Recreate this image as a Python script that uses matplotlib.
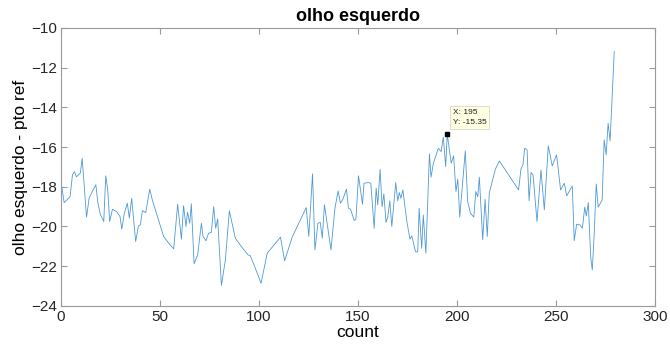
import numpy as np
import matplotlib.pyplot as plt

plt.rcParams['font.family'] = ['Liberation Sans', 'DejaVu Sans']

count = [0.4, 1.6, 4.6, 5.8, 6.8, 7.8, 9.8, 10.7, 12.9, 14.2, 15.5, 17.6, 18.6, 19.9,
         21.6, 22.6, 23.6, 24.6, 26.0, 28.1, 29.8, 30.7, 32.0, 33.5, 34.5, 35.7, 37.7,
         39.1, 40.1, 41.1, 42.8, 44.8, 46.1, 49.2, 51.8, 54.4, 56.9, 58.9, 60.8, 61.9,
         63.1, 63.9, 65.0, 65.8, 67.2, 69.0, 70.9, 71.7, 73.2, 74.5, 75.9, 77.1, 78.1,
         79.1, 81.0, 83.0, 85.0, 88.0, 91.0, 94.4, 95.6, 98.1, 101.0, 104.1, 110.8,
         112.9, 116.7, 123.8, 125.1, 127.0, 128.2, 129.7, 130.9, 131.9, 133.0, 136.3,
         138.3, 139.9, 141.1, 142.3, 144.1, 145.1, 146.2, 148.0, 148.9, 150.2, 152.2,
         153.0, 155.2, 156.4, 158.1, 159.1, 159.9, 161.1, 162.1, 163.0, 164.1, 165.0,
         166.0, 167.0, 169.0, 170.0, 170.8, 171.6, 172.6, 174.6, 176.2, 177.1, 179.0,
         180.1, 180.8, 182.1, 182.9, 184.2, 186.0, 186.8, 188.0, 190.5, 191.9, 193.0,
         194.2, 195.0, 197.0, 198.2, 199.4, 200.3, 201.3, 202.6, 204.1, 205.3, 206.7,
         208.4, 209.4, 210.4, 211.2, 212.9, 214.1, 215.2, 216.2, 219.3, 221.3, 231.0,
         232.2, 233.2, 234.1, 235.3, 236.3, 237.3, 238.3, 240.3, 242.3, 244.0, 246.0,
         248.0, 250.2, 252.2, 254.1, 255.3, 258.1, 259.1, 260.3, 262.0, 263.2, 264.4,
         265.2, 266.2, 267.4, 268.2, 269.2, 270.2, 271.2, 273.2, 274.2, 275.2, 276.2,
         277.2, 279.3]
pos = [-17.99, -18.80, -18.50, -17.40, -17.24, -17.50, -17.30, -16.56, -19.53, -18.58,
       -18.30, -17.90, -18.80, -19.40, -19.75, -17.45, -18.16, -19.75, -19.13, -19.25,
       -19.50, -20.14, -19.33, -18.83, -19.58, -18.58, -20.76, -19.97, -19.92, -19.20,
       -19.30, -18.12, -18.66, -19.67, -20.50, -20.84, -21.13, -18.88, -20.64, -18.95,
       -20.00, -19.28, -19.84, -18.86, -21.88, -21.43, -19.84, -20.50, -20.72, -20.34,
       -20.30, -19.00, -20.09, -19.62, -22.97, -21.68, -19.21, -20.59, -21.00, -21.43,
       -21.48, -22.10, -22.86, -21.35, -20.54, -21.73, -20.54, -19.05, -20.50, -17.35,
       -21.18, -19.84, -19.80, -20.59, -18.91, -21.18, -19.08, -18.21, -18.83, -18.63,
       -18.12, -19.08, -19.13, -19.70, -19.63, -17.45, -18.88, -17.82, -17.79, -17.82,
       -20.09, -18.07, -18.91, -17.12, -19.00, -18.36, -19.80, -19.50, -18.71, -20.00,
       -17.79, -18.71, -18.29, -18.58, -18.16, -19.75, -20.64, -20.47, -21.28, -21.28,
       -19.08, -21.10, -19.42, -21.35, -16.34, -17.52, -16.81, -16.06, -16.23, -15.50,
       -16.98, -15.35, -16.81, -16.44, -18.24, -17.62, -19.53, -17.99, -16.19, -18.74,
       -19.33, -19.53, -18.24, -18.50, -17.52, -20.67, -18.63, -20.50, -18.32, -17.11,
       -16.70, -18.16, -17.11, -16.90, -16.06, -16.14, -18.70, -17.28, -17.40, -19.75,
       -17.15, -19.16, -15.94, -16.95, -16.39, -18.16, -17.82, -18.46, -17.96, -20.71,
       -19.89, -19.92, -20.09, -19.03, -19.47, -18.80, -21.52, -22.19, -20.34, -17.86,
       -19.03, -18.66, -15.64, -16.39, -14.80, -15.69, -11.19]

tip_x = 195
tip_y = -15.35

fig = plt.figure(figsize=(6.7, 3.54), dpi=100)
ax = fig.add_axes([0.091, 0.136, 0.887, 0.785])

ax.plot(count, pos, color=(0.30, 0.60, 0.84), lw=0.6)

# datatip
ax.plot(tip_x, tip_y, 's', color='black', ms=3.5)
ax.annotate(f'X: {tip_x}\nY: {tip_y}', xy=(tip_x, tip_y), xytext=(4, 6),
            textcoords='offset points', fontsize=6, va='bottom', ha='left',
            linespacing=1.5, color='#202020',
            bbox=dict(boxstyle='square,pad=0.35', fc='#ffffe1', ec='#d8d8c8', lw=0.6))

ax.set_xlim(0, 300)
ax.set_ylim(-24, -10)
ax.set_xticks(np.arange(0, 301, 50))
ax.set_yticks(np.arange(-24, -9, 2))

ax.set_title('olho esquerdo', fontsize=13, fontweight='bold', pad=5)
ax.set_xlabel('count', fontsize=12.5, labelpad=1)
ax.set_ylabel('olho esquerdo - pto ref', fontsize=12.5, labelpad=2)

for s in ax.spines.values():
    s.set_color('#9a9a9a')
    s.set_linewidth(0.8)
ax.tick_params(direction='in', top=True, right=True, length=4, width=0.8,
               color='#9a9a9a', labelcolor='#262626', labelsize=11, pad=3)

fig.savefig('out.png', dpi=100)
